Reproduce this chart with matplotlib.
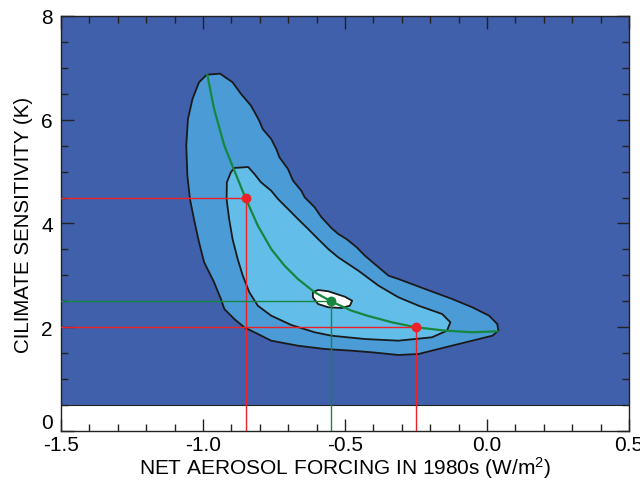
import matplotlib
matplotlib.use("Agg")
import matplotlib.pyplot as plt
from matplotlib.patches import Polygon
from matplotlib.ticker import MultipleLocator, FormatStrFormatter
from matplotlib.transforms import ScaledTranslation

plt.rcParams['font.family'] = ['Liberation Sans', 'DejaVu Sans']
plt.rcParams['mathtext.fontset'] = 'custom'
plt.rcParams['mathtext.rm'] = 'Liberation Sans'
plt.rcParams['mathtext.it'] = 'Liberation Sans'

# Outer contour
outer_x = [-0.987, -0.940, -0.896, -0.866, -0.831, -0.802, -0.790, -0.760, -0.742, -0.731,
           -0.701, -0.683, -0.654, -0.642, -0.607, -0.583, -0.548, -0.524, -0.495, -0.459,
           -0.430, -0.382, -0.347, -0.312, -0.218, -0.123, -0.052, 0.007, 0.036, 0.040,
           0.019, -0.052, -0.147, -0.241, -0.312, -0.406, -0.477, -0.572, -0.666, -0.760,
           -0.819, -0.855, -0.890, -0.925, -0.937, -0.961, -0.996, -1.014, -1.032, -1.046,
           -1.055, -1.059, -1.053, -1.037, -1.014]
outer_y = [6.868, 6.888, 6.722, 6.496, 6.271, 5.982, 5.822, 5.629, 5.436, 5.276,
           5.051, 4.825, 4.632, 4.505, 4.312, 4.120, 3.913, 3.798, 3.701, 3.541,
           3.379, 3.156, 2.994, 2.930, 2.737, 2.545, 2.385, 2.223, 2.063, 1.934,
           1.837, 1.741, 1.613, 1.484, 1.465, 1.517, 1.548, 1.581, 1.644, 1.741,
           1.903, 1.999, 2.159, 2.352, 2.545, 2.866, 3.252, 3.638, 4.087, 4.472,
           4.921, 5.500, 6.014, 6.400, 6.722]

# Inner contour
inner_x = [-0.890, -0.841, -0.819, -0.796, -0.760, -0.736, -0.701, -0.666, -0.630, -0.595,
           -0.559, -0.524, -0.453, -0.382, -0.312, -0.241, -0.158, -0.129, -0.141, -0.194,
           -0.312, -0.430, -0.548, -0.607, -0.689, -0.760, -0.807, -0.837, -0.860, -0.878,
           -0.896, -0.908, -0.917, -0.916, -0.902]
inner_y = [5.070, 5.089, 4.954, 4.794, 4.632, 4.472, 4.280, 4.087, 3.894, 3.701,
           3.508, 3.348, 3.090, 2.801, 2.577, 2.415, 2.255, 2.095, 1.934, 1.806,
           1.741, 1.773, 1.837, 1.903, 2.043, 2.223, 2.415, 2.674, 2.994, 3.316,
           3.701, 4.087, 4.472, 4.794, 4.987]

# Innermost (white) contour
core_x = [-0.613, -0.595, -0.559, -0.501, -0.475, -0.483, -0.512, -0.559, -0.595, -0.613]
core_y = [2.674, 2.718, 2.693, 2.589, 2.512, 2.415, 2.371, 2.385, 2.448, 2.577]

# Green curve
curve_x = [-0.985, -0.961, -0.925, -0.892, -0.852, -0.807, -0.760, -0.713, -0.666, -0.607,
           -0.548, -0.477, -0.420, -0.335, -0.250, -0.147, -0.052, 0.036]
curve_y = [6.868, 6.207, 5.500, 5.051, 4.511, 3.958, 3.508, 3.186, 2.930, 2.674,
           2.496, 2.319, 2.220, 2.095, 1.999, 1.934, 1.903, 1.922]

# Marked points
red_pts_x = [-0.85, -0.25]
red_pts_y = [4.5, 2.0]
green_pt_x = [-0.55]
green_pt_y = [2.5]

xlim = (-1.5, 0.5)
ylim = (0, 8)
white_band_top = 0.5
y_ticks = [0, 2, 4, 6, 8]

bg = '#4060AC'
mid = '#4A9BD6'
light = '#62BDE9'
green = '#16873F'
red = '#EE2226'

fig = plt.figure(figsize=(6.4, 4.85), dpi=100)
ax = fig.add_axes([0.0953, 0.1093, 0.8876, 0.8557])
ax.set_facecolor(bg)
ax.set_xlim(*xlim)
ax.set_ylim(*ylim)

ax.axhspan(ylim[0], white_band_top, color='white', zorder=0.5, lw=0)
ax.axhline(white_band_top, color='#222222', lw=0.8, zorder=0.6)

for xs, ys, fc in [(outer_x, outer_y, mid), (inner_x, inner_y, light), (core_x, core_y, 'white')]:
    ax.add_patch(Polygon(list(zip(xs, ys)), closed=True, facecolor=fc,
                         edgecolor='#1a1a1a', lw=1.3, joinstyle='round', zorder=1))

ax.plot(curve_x, curve_y, color=green, lw=1.6, zorder=3, solid_joinstyle='round')

for px, py in zip(red_pts_x, red_pts_y):
    ax.plot([xlim[0], px], [py, py], color=red, lw=1.0, zorder=4)
    ax.plot([px, px], [ylim[0], py], color=red, lw=1.0, zorder=4)
for px, py in zip(green_pt_x, green_pt_y):
    ax.plot([xlim[0], px], [py, py], color=green, lw=1.0, zorder=4)
    ax.plot([px, px], [ylim[0], py], color=green, lw=1.0, zorder=4)

ax.scatter(red_pts_x, red_pts_y, s=50, color=red, zorder=5, lw=0)
ax.scatter(green_pt_x, green_pt_y, s=50, color=green, zorder=5, lw=0)

ax.xaxis.set_major_locator(MultipleLocator(0.5))
ax.xaxis.set_minor_locator(MultipleLocator(0.1))
ax.set_yticks(y_ticks)
ax.yaxis.set_minor_locator(MultipleLocator(0.5))
ax.xaxis.set_major_formatter(FormatStrFormatter('%.1f'))
ax.tick_params(which='both', direction='in', top=True, right=True, color='#222222', width=1)
ax.tick_params(which='major', length=9, labelsize=15)
ax.tick_params(axis='x', which='major', pad=3)
ax.tick_params(axis='y', which='major', pad=6)
ax.tick_params(which='minor', length=5)
for s in ax.spines.values():
    s.set_linewidth(1.0)
    s.set_color('#222222')

# the "0" label sits slightly raised in the reference
t0 = ax.yaxis.get_major_ticks()[0]
t0.label1.set_transform(t0.label1.get_transform() + ScaledTranslation(0, 10 / 100, fig.dpi_scale_trans))

ax.set_xlabel('NET AEROSOL FORCING IN 1980s (W/m$^{2}$)', fontsize=15, labelpad=0)
ax.set_ylabel('CILIMATE SENSITIVITY (K)', fontsize=14.8, labelpad=6)

fig.savefig('out.png', dpi=100)
